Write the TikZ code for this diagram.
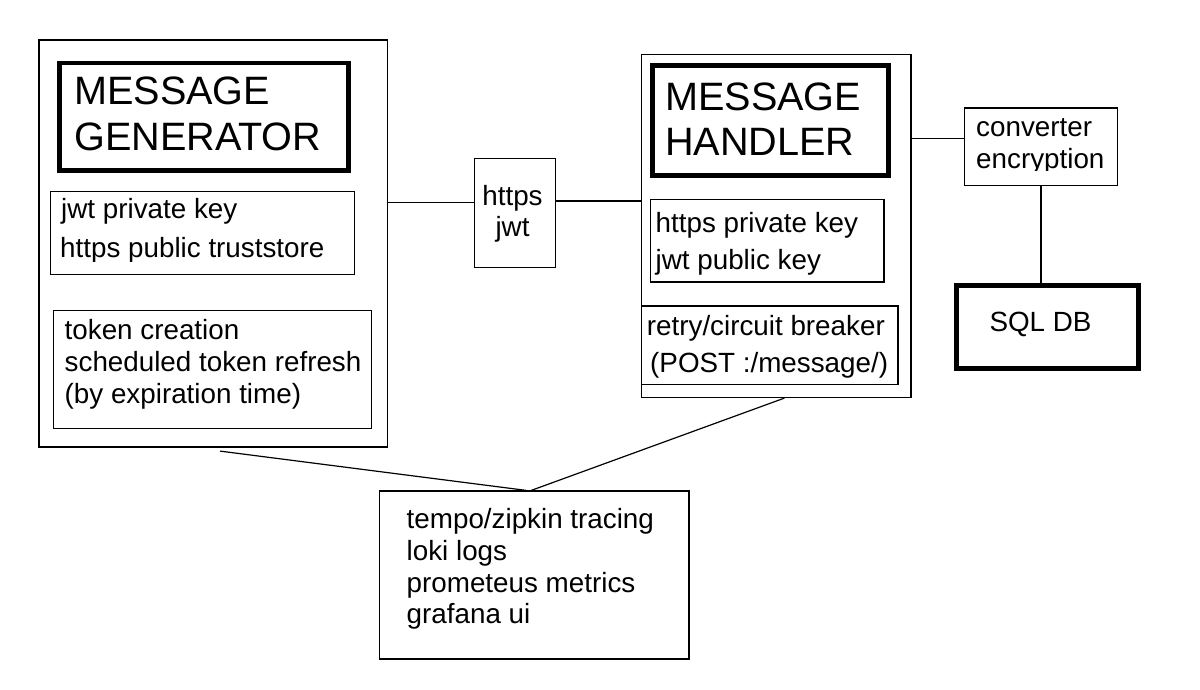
\documentclass[tikz,border=0pt]{standalone}
\usepackage{fontspec}
\setmainfont{Liberation Sans}

\tikzset{
  box/.style={draw, line width=1.2pt, inner sep=0pt},
  bigbox/.style={draw, line width=4.8pt, inner sep=0pt},
  txt/.style={inner sep=0pt, anchor=base west, font=\fontsize{27.8pt}{32pt}\selectfont},
  bigtxt/.style={txt, font=\fontsize{39.6pt}{45pt}\selectfont},
  wire/.style={line width=1.2pt},
}

\begin{document}
\begin{tikzpicture}[x=1pt,y=-1pt]
\useasboundingbox (0,0) rectangle (1200,690);

% message generator
\node[box, minimum width=348.5pt, minimum height=407pt] (gen) at (213.25,243.5) {};
\node[bigbox, minimum width=288.7pt, minimum height=107.3pt] (gentitle) at (204,116.7) {};
\node[bigtxt] (gentitle1) at (74,105) {MESSAGE};
\node[bigtxt] (gentitle2) at (74,150) {GENERATOR};

\node[box, minimum width=304pt, minimum height=82.6pt] (genkeys) at (202.3,233) {};
\node[txt] (genkeys1) at (61,218.5) {jwt private key};
\begin{scope}
\clip (50,230) rectangle (360,261);
\node[txt] (genkeys2) at (60,257.7) {https public truststore};
\end{scope}

\node[box, minimum width=318.4pt, minimum height=117.6pt] (gentoken) at (212.5,369.5) {};
\node[txt] (gentoken1) at (64.5,339.5) {token creation};
\node[txt] (gentoken2) at (64.5,371.5) {scheduled token refresh};
\node[txt] (gentoken3) at (64.5,403.5) {(by expiration time)};

% transport
\node[box, minimum width=81.4pt, minimum height=109pt] (bridge) at (515,212.8) {};
\node[txt, anchor=base] (bridge1) at (512.5,205) {https};
\node[txt, anchor=base] (bridge2) at (512.5,236.5) {jwt};

% message handler
\node[box, minimum width=269.2pt, minimum height=342.8pt] (handler) at (776.4,226.1) {};
\node[bigbox, minimum width=235.7pt, minimum height=110.4pt] (handtitle) at (770.35,120.4) {};
\node[bigtxt] (handtitle1) at (665,110.7) {MESSAGE};
\node[bigtxt] (handtitle2) at (665,155.2) {HANDLER};

\node[box, minimum width=233.8pt, minimum height=82.5pt] (handkeys) at (767.1,240.75) {};
\node[txt] (handkeys1) at (655.5,232) {https private key};
\node[txt] (handkeys2) at (655.5,269) {jwt public key};

\node[box, minimum width=256.2pt, minimum height=78.5pt] (retry) at (769.9,345.25) {};
\node[txt] (retry1) at (646.7,335.8) {retry/circuit breaker};
\node[txt] (retry2) at (650,372.9) {(POST :/message/)};

% storage
\node[box, minimum width=153pt, minimum height=77.5pt] (conv) at (1041,146.75) {};
\node[txt] (conv1) at (976,137) {converter};
\begin{scope}
\clip (966,145) rectangle (1116,171);
\node[txt] (conv2) at (976,168.6) {encryption};
\end{scope}

\node[bigbox, line width=5pt, minimum width=182.3pt, minimum height=83.5pt] (sql) at (1047.6,326.8) {};
\node[txt] (sql1) at (989.3,331.4) {SQL DB};

% observability
\node[box, minimum width=309.5pt, minimum height=168pt] (obs) at (534.25,575) {};
\node[txt] (obs1) at (406.5,528.5) {tempo/zipkin tracing};
\node[txt] (obs2) at (406.5,560.7) {loki logs};
\node[txt] (obs3) at (406.5,592.5) {prometeus metrics};
\node[txt] (obs4) at (406.5,623.5) {grafana ui};

% connections
\draw[wire] ([yshift=40.8pt]gen.east) -- ([yshift=10.1pt]bridge.west);
\draw[wire] ([yshift=11.8pt]bridge.east) -- ([yshift=25.1pt]handler.west);
\draw[wire] ([yshift=87.8pt]handler.east) -- ([yshift=8.45pt]conv.west);
\draw[wire] (conv.south) -- (conv.south |- sql.north);
\draw[wire] ([xshift=6.75pt,yshift=-3.5pt]gen.south) -- ([xshift=-8pt]obs.north);
\draw[wire] ([xshift=8pt]handler.south) -- ([xshift=-3pt]obs.north);
\end{tikzpicture}
\end{document}
